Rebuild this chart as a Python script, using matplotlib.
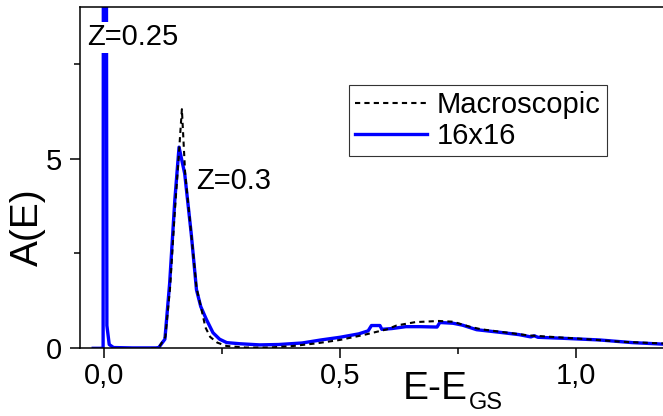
import matplotlib
matplotlib.use("Agg")
import matplotlib.pyplot as plt
from matplotlib.ticker import FuncFormatter, MultipleLocator

plt.rcParams['font.family'] = ['Liberation Sans', 'DejaVu Sans']

# 16x16 cluster spectrum
x_16 = [-0.023, -0.002, 0.0, 0.002, 0.006, 0.011, 0.02, 0.06, 0.11, 0.116,
        0.129, 0.139, 0.150, 0.159, 0.171, 0.185, 0.196, 0.205, 0.217, 0.231,
        0.245, 0.260, 0.288, 0.330, 0.370, 0.420, 0.460, 0.500, 0.540, 0.560,
        0.567, 0.585, 0.589, 0.610, 0.640, 0.670, 0.706, 0.712, 0.740, 0.760,
        0.775, 0.790, 0.840, 0.880, 0.905, 0.912, 0.920, 0.980, 1.050, 1.120, 1.200]
y_16 = [0.0, 0.0, 40.0, 40.0, 0.6, 0.1, 0.02, 0.01, 0.01, 0.02,
        0.24, 1.7, 3.9, 5.3, 4.6, 3.0, 1.54, 1.1, 0.76, 0.41,
        0.24, 0.15, 0.12, 0.09, 0.10, 0.14, 0.22, 0.29, 0.38, 0.46,
        0.60, 0.60, 0.50, 0.52, 0.57, 0.57, 0.56, 0.68, 0.66, 0.61,
        0.55, 0.49, 0.42, 0.36, 0.30, 0.33, 0.29, 0.26, 0.22, 0.15, 0.10]

# Macroscopic spectrum
x_mac = [0.100, 0.115, 0.130, 0.140, 0.150, 0.158, 0.165, 0.172, 0.185, 0.196,
         0.207, 0.215, 0.225, 0.240, 0.260, 0.300, 0.350, 0.400, 0.450, 0.500,
         0.550, 0.600, 0.620, 0.660, 0.710, 0.740, 0.775, 0.800, 0.850, 0.900,
         1.000, 1.100, 1.200]
y_mac = [0.0, 0.0, 0.3, 1.6, 3.6, 5.0, 6.3, 4.6, 3.0, 1.6,
         1.0, 0.55, 0.30, 0.15, 0.06, 0.02, 0.02, 0.06, 0.13, 0.22,
         0.35, 0.50, 0.60, 0.69, 0.72, 0.70, 0.57, 0.50, 0.42, 0.34,
         0.26, 0.17, 0.12]

x_ticks = [0.0, 0.5, 1.0]
y_ticks = [0, 5]

W, H = 663, 416
fig = plt.figure(figsize=(W / 100, H / 100), dpi=100)
ax = fig.add_axes([80 / W, 67.7 / H, 590 / W, (348.3 - 6.7) / H])

ax.plot(x_mac, y_mac, color='black', lw=1.5, dashes=(2.5, 2), label='Macroscopic', zorder=3)
ax.plot(x_16, y_16, color='#0000ff', lw=2.4, label='16x16', zorder=2, solid_joinstyle='round')

ax.set_xlim(-0.051, 1.2)
ax.set_ylim(0, 9)

ax.set_xticks(x_ticks)
ax.set_yticks(y_ticks)
ax.xaxis.set_minor_locator(MultipleLocator(0.25))
ax.yaxis.set_minor_locator(MultipleLocator(2.5))
ax.xaxis.set_major_formatter(FuncFormatter(lambda v, p: f"{v:.1f}".replace('.', ',')))
ax.yaxis.set_major_formatter(FuncFormatter(lambda v, p: f"{v:.0f}"))

ax.tick_params(which='major', direction='out', length=7, width=1.1, labelsize=21)
ax.tick_params(which='minor', direction='out', length=4, width=1.1)
ax.tick_params(axis='x', which='major', pad=3)
ax.tick_params(axis='y', which='major', pad=6)
ax.tick_params(top=False, right=False, which='both')

for s in ['left', 'bottom', 'top']:
    ax.spines[s].set_linewidth(1.1)
ax.spines['right'].set_visible(False)

ax.text(-0.036, 7.98, 'Z=0.25', fontsize=21, va='baseline', ha='left', zorder=5,
        bbox=dict(facecolor='white', edgecolor='none', pad=1.0))
ax.text(0.195, 4.19, 'Z=0.3', fontsize=21, va='baseline', ha='left', zorder=5)

leg = ax.legend(loc='upper left', bbox_to_anchor=(349 / W, 1 - 85 / H),
                bbox_transform=fig.transFigure, borderaxespad=0, fontsize=21,
                handlelength=2.47, handletextpad=0.34, borderpad=0.2,
                labelspacing=0.1, fancybox=False, framealpha=1, edgecolor='#333333')
leg.get_frame().set_linewidth(0.8)

fig.text(28 / W, 1 - 227 / H, 'A(E)', fontsize=28, rotation=90, ha='center', va='center')
fig.text(403 / W, 1 - 399 / H, 'E-E', fontsize=28, ha='left', va='baseline')
fig.text(469 / W, 1 - 409 / H, 'GS', fontsize=17, ha='left', va='baseline')

fig.savefig('out.png', dpi=100)
